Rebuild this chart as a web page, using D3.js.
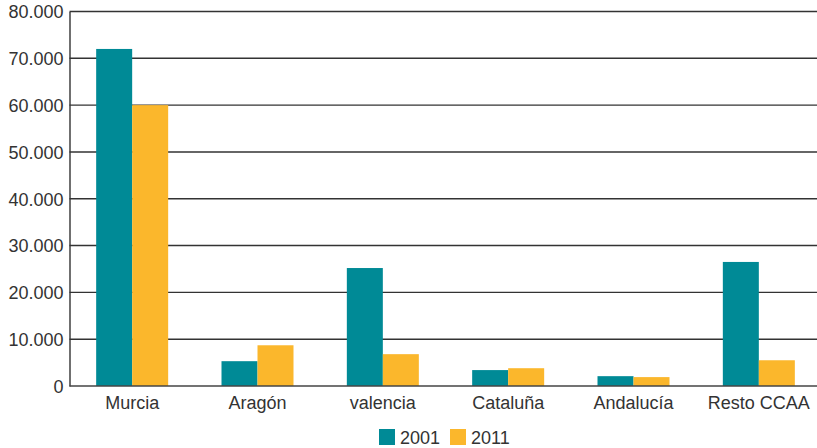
<!DOCTYPE html>
<html>
<head>
<meta charset="utf-8">
<script src="https://cdn.jsdelivr.net/npm/d3@7/dist/d3.min.js"></script>
<style>
  html, body { margin: 0; padding: 0; background: #fff; }
  svg { display: block; }
  text { font-family: "Liberation Sans", Arial, Helvetica, sans-serif; fill: #333; }
</style>
</head>
<body>
<svg id="chart" width="817" height="448"></svg>
<script>
const categories = ["Murcia", "Aragón", "valencia", "Cataluña", "Andalucía", "Resto CCAA"];
const seriesNames = ["2001", "2011"];
const values2001 = [72000, 5300, 25200, 3400, 2100, 26500];
const values2011 = [60000, 8700, 6800, 3800, 1900, 5500];
const yTicks = [0, 10000, 20000, 30000, 40000, 50000, 60000, 70000, 80000];
const colors = ["#008A96", "#FBB72C"];

const W = 817, H = 448;
const margin = { left: 69.5, right: -4.5, top: 11.5, bottom: 62 };
const svg = d3.select("#chart");

const x0 = d3.scaleBand().domain(categories).range([margin.left, W - margin.right]).paddingInner(0).paddingOuter(0);
const bw = x0.bandwidth();
const x1 = d3.scaleBand().domain(seriesNames).range([bw / 2 - 36, bw / 2 + 36]);
const y = d3.scaleLinear().domain([0, 80000]).range([H - margin.bottom, margin.top]);

const fmt = d => d === 0 ? "0" : d3.format(",")(d).replace(/,/g, ".");

// gridlines
svg.append("g").selectAll("line").data(yTicks.filter(d => d > 0)).join("line")
  .attr("x1", margin.left).attr("x2", W)
  .attr("y1", d => y(d)).attr("y2", d => y(d))
  .attr("stroke", "#333").attr("stroke-width", 1.4);

// bars
const data = categories.map((c, i) => ({ cat: c, vals: [values2001[i], values2011[i]] }));
const groups = svg.append("g").selectAll("g").data(data).join("g")
  .attr("transform", d => `translate(${x0(d.cat)},0)`);
groups.selectAll("rect").data(d => d.vals.map((v, j) => ({ key: seriesNames[j], v, j }))).join("rect")
  .attr("x", d => x1(d.key))
  .attr("width", x1.bandwidth())
  .attr("y", d => y(d.v))
  .attr("height", d => y(0) - y(d.v))
  .attr("fill", d => colors[d.j]);

// y axis
const yAxis = d3.axisLeft(y).tickValues(yTicks).tickSize(0).tickPadding(6).tickFormat(fmt);
const gy = svg.append("g").attr("transform", `translate(${margin.left},0)`).call(yAxis);
gy.select(".domain").attr("stroke", "#333").attr("stroke-width", 1.4);
gy.selectAll("text").attr("font-size", 18).attr("dy", "0.35em").style("fill", "#333")
  .attr("font-family", '"Liberation Sans", Arial, sans-serif');

// x axis baseline
svg.append("line").attr("x1", margin.left).attr("x2", W)
  .attr("y1", y(0)).attr("y2", y(0)).attr("stroke", "#444").attr("stroke-width", 1.6);

// x axis labels
const xAxis = d3.axisBottom(x0).tickSize(0).tickPadding(10);
const gx = svg.append("g").attr("transform", `translate(0,${y(0)})`).call(xAxis);
gx.select(".domain").remove();
gx.selectAll("text").attr("font-size", 18).style("fill", "#333")
  .attr("font-family", '"Liberation Sans", Arial, sans-serif');

// legend
const legend = svg.append("g").attr("transform", "translate(379,429)");
seriesNames.forEach((s, i) => {
  const g = legend.append("g").attr("transform", `translate(${i * 71},0)`);
  g.append("rect").attr("width", 16).attr("height", 16).attr("fill", colors[i]);
  g.append("text").attr("x", 21).attr("y", 15).attr("font-size", 18).text(s);
});
</script>
</body>
</html>
